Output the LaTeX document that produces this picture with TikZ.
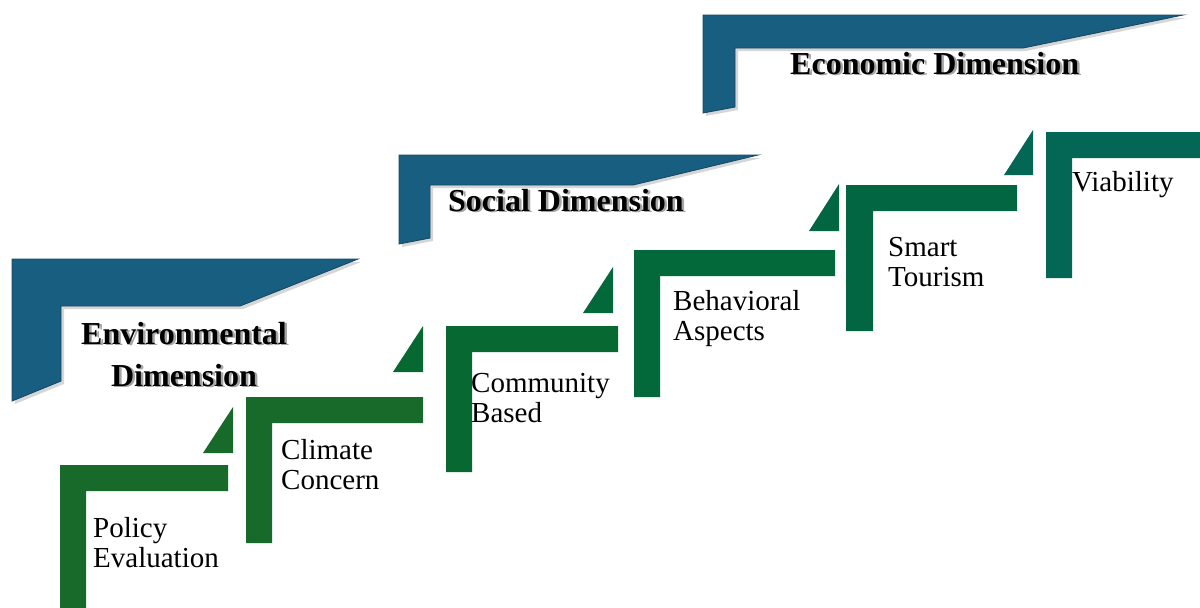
\documentclass[tikz,border=0pt]{standalone}
\usepackage{fontspec}
\setmainfont{Liberation Serif}
\definecolor{dimblue}{RGB}{23,94,128}
\definecolor{dimedge}{RGB}{24,72,100}
\definecolor{stepA}{RGB}{24,106,42}
\definecolor{stepB}{RGB}{8,104,50}
\definecolor{stepC}{RGB}{3,104,58}
\definecolor{stepD}{RGB}{2,102,66}
\definecolor{stepE}{RGB}{4,102,84}
\begin{document}
\begin{tikzpicture}[x=1pt,y=-1pt,
  banner/.style={fill=dimblue,draw=dimedge,line width=0.9pt,line join=miter},
  bannershade/.style={fill=black,opacity=0.16},
  lbl/.style={anchor=base west,align=left,inner sep=0pt,
    font=\fontsize{29}{30}\selectfont},
  head/.style={anchor=base west,align=center,inner sep=0pt,
    font=\bfseries\fontsize{32}{42}\selectfont},
  headshade/.style={head,text=black!35}]
\useasboundingbox (0,0) rectangle (1200,608);

% dimension banners (soft shadow first)
\fill[bannershade] (15,262) -- (361,262) -- (243,309) -- (64,309) -- (64,384) -- (15,404) -- cycle;
\fill[bannershade] (402,158) -- (761,158) -- (636,188) -- (433,188) -- (433,241) -- (402,247) -- cycle;
\fill[bannershade] (706,18) -- (1186,18) -- (1026,51) -- (738,51) -- (738,110) -- (706,116) -- cycle;
\path[banner] (12,259) -- (358,259) -- (240,306) -- (61,306) -- (61,381) -- (12,401) -- cycle;
\path[banner] (399,155) -- (758,155) -- (633,185) -- (430,185) -- (430,238) -- (399,244) -- cycle;
\path[banner] (703,15) -- (1183,15) -- (1023,48) -- (735,48) -- (735,107) -- (703,113) -- cycle;

% green stairs with their small wedges
\fill[stepA] (60,465) -- (228,465) -- (228,491) -- (86,491) -- (86,608) -- (60,608) -- cycle;
\fill[stepA] (203,453) -- (233,407) -- (233,453) -- cycle;
\fill[stepA] (246,397) -- (423,397) -- (423,423) -- (272,423) -- (272,543) -- (246,543) -- cycle;
\fill[stepB] (393,372) -- (423,326) -- (423,372) -- cycle;
\fill[stepB] (446,326) -- (618,326) -- (618,352) -- (472,352) -- (472,472) -- (446,472) -- cycle;
\fill[stepC] (583,313) -- (613,267) -- (613,313) -- cycle;
\fill[stepC] (634,250) -- (835,250) -- (835,276) -- (660,276) -- (660,397) -- (634,397) -- cycle;
\fill[stepD] (809,231) -- (839,184) -- (839,231) -- cycle;
\fill[stepD] (846,185) -- (1017,185) -- (1017,211) -- (873,211) -- (873,331) -- (846,331) -- cycle;
\fill[stepE] (1004,175) -- (1033,130) -- (1033,175) -- cycle;
\fill[stepE] (1046,132) -- (1200,132) -- (1200,158) -- (1072,158) -- (1072,278) -- (1046,278) -- cycle;

% banner titles with a light text shadow (base anchor sits on the last line)
\node[headshade] (envshade) at (83.5,387.5) {Environmental\\Dimension};
\node[head] (env) at (81,386) {Environmental\\Dimension};
\node[headshade] (socshade) at (450.5,212.5) {Social Dimension};
\node[head] (soc) at (448,211) {Social Dimension};
\node[headshade] (ecoshade) at (792.5,75.5) {Economic Dimension};
\node[head] (eco) at (790,74) {Economic Dimension};

% stair labels
\node[lbl] (policy) at (93,567) {Policy\\Evaluation};
\node[lbl] (climate) at (281,489) {Climate\\Concern};
\node[lbl] (community) at (471,422) {Community\\Based};
\node[lbl] (behav) at (673,340) {Behavioral\\Aspects};
\node[lbl] (smart) at (888,286) {Smart\\Tourism};
\node[lbl] (viab) at (1072,191) {Viability};
\end{tikzpicture}
\end{document}
